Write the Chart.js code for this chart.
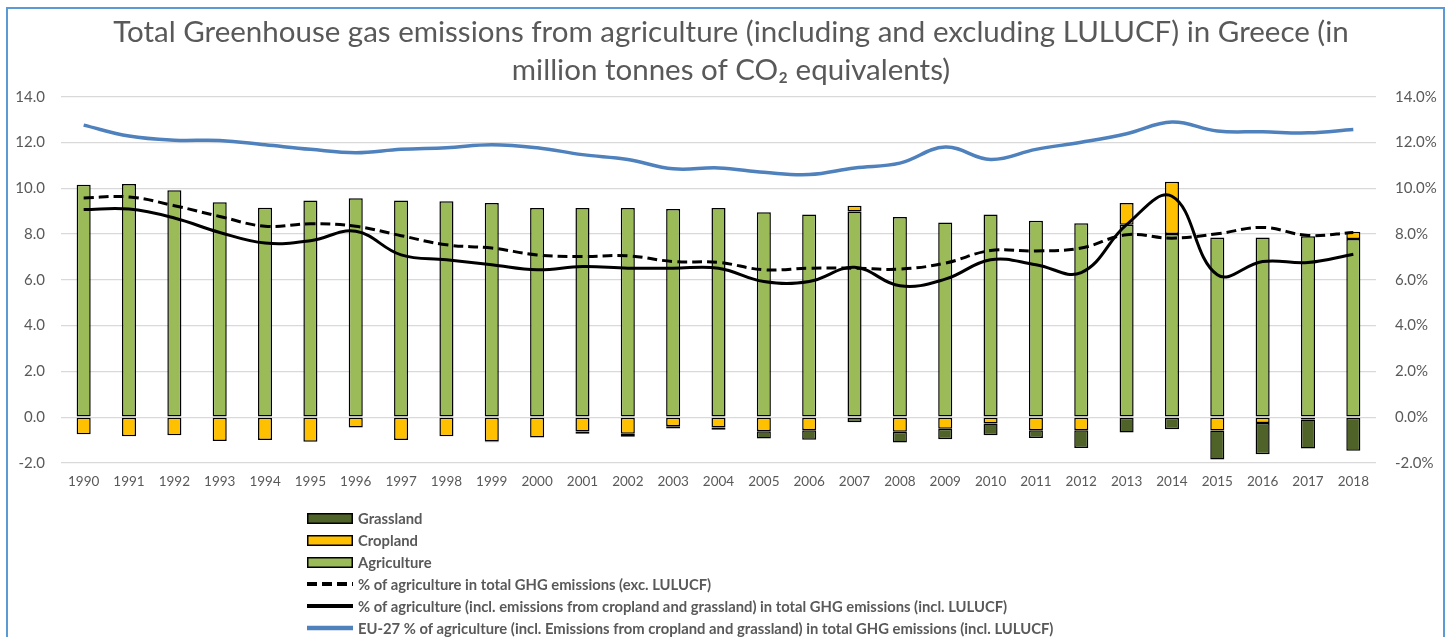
<!DOCTYPE html>
<html>
<head>
<meta charset="utf-8">
<script src="https://cdn.jsdelivr.net/npm/chart.js@4.4.1/dist/chart.umd.min.js"></script>
<style>
  html, body { margin: 0; padding: 0; background: #fff; overflow: hidden; }
  #wrap { position: relative; width: 1454px; height: 637px; }
  #frame { position: absolute; left: 6px; top: 7px; width: 1435px; height: 700px;
           border: 2px solid #5B9BD5; border-bottom: none; pointer-events: none; }
  #legend { position: absolute; left: 307px; top: 507px; font-family: Lato, "Open Sans", sans-serif;
            font-weight: bold; font-size: 14.8px; color: #595959; }
  .row { height: 22px; display: flex; align-items: center; white-space: nowrap; }
  .row svg { margin-right: 5px; flex: none; }
</style>
</head>
<body>
<div id="wrap">
  <canvas id="c" width="1454" height="637"></canvas>
  <div id="frame"></div>
  <div id="legend"></div>
</div>
<script>
const years = ['1990','1991','1992','1993','1994','1995','1996','1997','1998','1999',
  '2000','2001','2002','2003','2004','2005','2006','2007','2008','2009',
  '2010','2011','2012','2013','2014','2015','2016','2017','2018'];

// million tonnes CO2 eq.
const agriculture = [10.15,10.19,9.91,9.39,9.15,9.47,9.56,9.47,9.43,9.36,
  9.14,9.14,9.14,9.09,9.14,8.95,8.85,8.99,8.74,8.51,
  8.85,8.58,8.47,8.41,8.00,7.85,7.85,7.90,7.78];
const cropland = [-0.74,-0.83,-0.79,-1.04,-0.99,-1.07,-0.45,-1.00,-0.83,-1.06,
  -0.89,-0.62,-0.72,-0.39,-0.45,-0.61,-0.57,0.25,-0.64,-0.50,
  -0.28,-0.57,-0.57,0.95,2.28,-0.58,-0.25,-0.10,0.32];
const grassland = [null,null,null,null,null,null,null,null,null,-0.03,
  null,-0.10,-0.13,-0.10,-0.10,-0.32,-0.41,-0.22,-0.47,-0.46,
  -0.51,-0.34,-0.77,-0.67,-0.53,-1.27,-1.37,-1.27,-1.47];

// percentages
const pctExcl = [9.58,9.62,9.24,8.77,8.34,8.45,8.34,7.93,7.53,7.39,
  7.09,7.02,7.05,6.80,6.76,6.44,6.51,6.51,6.47,6.73,
  7.28,7.26,7.39,7.97,7.82,8.01,8.29,7.94,8.07];
const pctIncl = [9.07,9.09,8.70,8.07,7.61,7.71,8.12,7.09,6.88,6.66,
  6.44,6.58,6.51,6.51,6.51,5.93,5.93,6.55,5.74,6.03,
  6.88,6.66,6.32,8.41,9.65,6.22,6.80,6.76,7.12];
const pctEU = [12.76,12.28,12.10,12.09,11.90,11.70,11.55,11.70,11.77,11.90,
  11.77,11.47,11.26,10.85,10.89,10.70,10.60,10.89,11.10,11.80,
  11.26,11.70,12.01,12.38,12.89,12.50,12.47,12.42,12.57];

const leftTicks = [-2,0,2,4,6,8,10,12,14];

const titleLines = ['Total Greenhouse gas emissions from agriculture (including and excluding LULUCF) in Greece (in',
  'million tonnes of CO\u2082 equivalents)'];

const labels = {
  agri: 'Agriculture', crop: 'Cropland', grass: 'Grassland',
  excl: '% of agriculture in total GHG emissions (exc. LULUCF)',
  incl: '% of agriculture (incl. emissions from cropland and grassland) in total GHG emissions (incl. LULUCF)',
  eu: 'EU-27 % of agriculture (incl. Emissions from cropland and grassland) in total GHG emissions (incl. LULUCF)'
};
const legendOrder = ['grass','crop','agri','excl','incl','eu'];

const FONT = 'Lato, "Open Sans", sans-serif';
const GREY = '#595959';

const barCommon = { type: 'bar', yAxisID: 'y', order: 1, borderColor: '#000', borderWidth: 1.5,
  borderSkipped: false, barPercentage: 0.31, categoryPercentage: 1.0, stack: 's' };
const lineCommon = { type: 'line', yAxisID: 'y2', order: 0, pointRadius: 0, tension: 0.4,
  fill: false, borderCapStyle: 'butt' };

const datasets = [
  { ...barCommon, key: 'agri', label: labels.agri, data: agriculture, backgroundColor: '#9BBB59' },
  { ...barCommon, key: 'crop', label: labels.crop, data: cropland, backgroundColor: '#FFC000' },
  { ...barCommon, key: 'grass', label: labels.grass, data: grassland, backgroundColor: '#4F6228' },
  { ...lineCommon, key: 'excl', label: labels.excl, data: pctExcl, borderColor: '#000', borderWidth: 3, borderDash: [10, 5] },
  { ...lineCommon, key: 'incl', label: labels.incl, data: pctIncl, borderColor: '#000', borderWidth: 3 },
  { ...lineCommon, key: 'eu', label: labels.eu, data: pctEU, borderColor: '#4F81BD', borderWidth: 3.5 }
];

const chart = new Chart(document.getElementById('c'), {
  data: { labels: years, datasets },
  options: {
    responsive: false,
    animation: false,
    devicePixelRatio: 1,
    layout: { padding: { left: 8, right: 0, top: 0, bottom: 144 } },
    plugins: {
      legend: { display: false },
      tooltip: { enabled: false },
      title: {
        display: true, text: titleLines, color: GREY,
        font: { family: FONT, size: 29.5, weight: 'normal', lineHeight: 1.3 },
        padding: { top: 13, bottom: 7 }
      }
    },
    scales: {
      x: {
        stacked: true,
        grid: { display: false, drawTicks: false },
        border: { display: false },
        ticks: { color: GREY, font: { family: FONT, size: 13.5 }, padding: 11, maxRotation: 0, autoSkip: false },
        afterFit: s => { s.height = 30; }
      },
      y: {
        stacked: true, position: 'left', min: -2, max: 14,
        afterBuildTicks: s => { s.ticks = leftTicks.map(v => ({ value: v })); },
        grid: { color: '#D9D9D9', lineWidth: 1.3, drawTicks: false },
        border: { display: false },
        ticks: { color: GREY, font: { family: FONT, size: 15 }, padding: 16, callback: v => v.toFixed(1) },
        afterFit: s => { s.width = 53; }
      },
      y2: {
        position: 'right', min: -2, max: 14,
        afterBuildTicks: s => { s.ticks = leftTicks.map(v => ({ value: v })); },
        grid: { display: false, drawTicks: false },
        border: { display: false },
        ticks: { color: GREY, font: { family: FONT, size: 15 }, padding: 19, callback: v => v.toFixed(1) + '%' },
        afterFit: s => { s.width = 78; }
      }
    }
  }
});

// HTML legend built from the datasets
const legend = document.getElementById('legend');
legendOrder.forEach(k => {
  const ds = chart.data.datasets.find(d => d.key === k);
  const row = document.createElement('div');
  row.className = 'row';
  let svg;
  if (ds.type === 'bar') {
    svg = `<svg width="46" height="11"><rect x="0.75" y="0.75" width="44.5" height="9.5" fill="${ds.backgroundColor}" stroke="#000" stroke-width="1.5"/></svg>`;
  } else {
    const dash = ds.borderDash ? `stroke-dasharray="10,5"` : '';
    svg = `<svg width="46" height="8"><line x1="0" y1="4" x2="46" y2="4" stroke="${ds.borderColor}" stroke-width="${ds.borderWidth + 1}" ${dash}/></svg>`;
  }
  row.innerHTML = svg + '<span>' + ds.label + '</span>';
  legend.appendChild(row);
});
</script>
</body>
</html>
